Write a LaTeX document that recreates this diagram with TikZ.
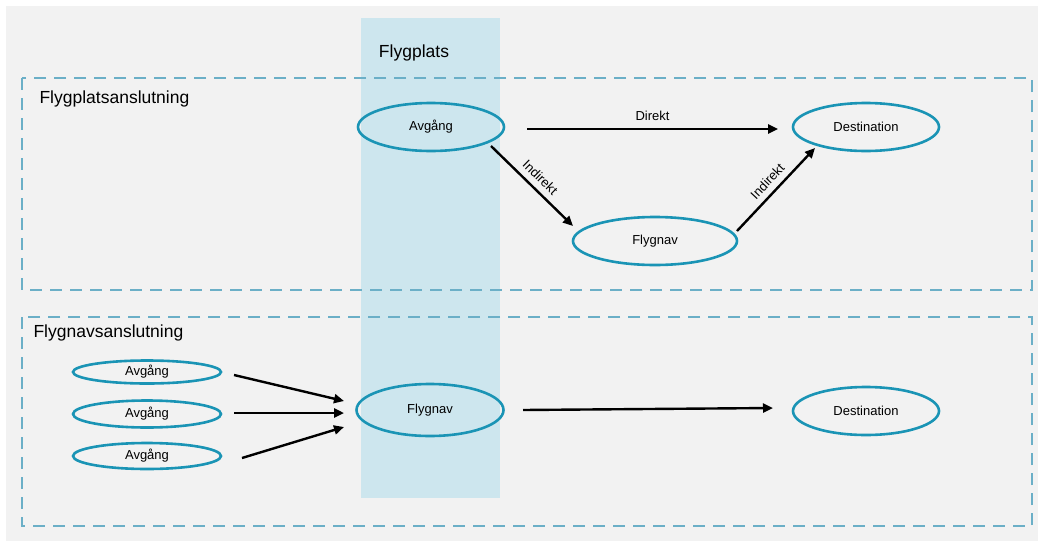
\documentclass[tikz,border=0pt]{standalone}
\usepackage{fontspec}
\setmainfont{Liberation Sans}
\usetikzlibrary{shapes.geometric,arrows.meta,calc}
\definecolor{bggray}{HTML}{F2F2F2}
\definecolor{colblue}{HTML}{CDE6EE}
\definecolor{ringblue}{HTML}{1A94B5}
\definecolor{dashblue}{HTML}{6BAFC7}
\tikzset{
  oval/.style={ellipse, draw=ringblue, line width=2.6pt, minimum width=#1, inner sep=0pt, font=\fontsize{13}{15}\selectfont},
  oval/.default={146pt},
  flow/.style={line width=2.4pt, -{Triangle[length=10pt,width=9pt]}},
  groupbox/.style={draw=dashblue, line width=2.8pt, dash pattern=on 12pt off 8pt},
  grouplabel/.style={anchor=west, font=\fontsize{17.5}{20}\selectfont},
  edgelabel/.style={font=\fontsize{13}{15}\selectfont, inner sep=1pt}
}
\begin{document}
\begin{tikzpicture}[x=1pt,y=-1pt]
\useasboundingbox (0,0) rectangle (1038,541);
\fill[white] (0,0) rectangle (1038,541);
\fill[bggray] (6,6) rectangle (1038,541);
% airport column
\fill[colblue] (361,18) rectangle (500,498);
\node[font=\fontsize{17.5}{20}\selectfont] (flygplats) at (414,53) {Flygplats};
% group boxes
\draw[groupbox] (22,78) rectangle (1032,290);
\draw[groupbox] (22,317) rectangle (1032,526);
\node[grouplabel] (g1) at (36,99) {Flygplatsanslutning};
\node[grouplabel] (g2) at (30,333) {Flygnavsanslutning};
% top nodes
\node[oval, minimum height=48pt] (avg1) at (431,127) {Avgång};
\node[oval, minimum height=48pt] (dst1) at (866,127) {Destination};
\node[oval=164pt, minimum height=48pt] (hub1) at (655,241) {Flygnav};
% bottom nodes
\node[oval=148pt, minimum height=23pt] (a1) at (147,372) {Avgång};
\node[oval=148pt, minimum height=27pt] (a2) at (147,414) {Avgång};
\node[oval=148pt, minimum height=26pt] (a3) at (147,456) {Avgång};
\node[oval=147pt, minimum height=52pt] (hub2) at (430,410) {Flygnav};
\node[oval=146pt, minimum height=48pt] (dst2) at (866,411) {Destination};
% top connectors
\draw[flow] ($(avg1)+(96,2)$) -- node[edgelabel, above=6pt] {Direkt} ($(dst1)+(-88,2)$);
\draw[flow] ($(avg1)+(60,19)$) -- node[edgelabel, sloped, above=5pt] {Indirekt} ($(hub1)+(-82,-15)$);
\draw[flow] ($(hub1)+(82,-10)$) -- node[edgelabel, sloped, above=5pt] {Indirekt} ($(dst1)+(-51,21)$);
% bottom connectors
\draw[flow] ($(a1)+(87,3)$) -- ($(hub2)+(-86,-9)$);
\draw[flow] ($(a2)+(87,-1)$) -- ($(hub2)+(-86,3)$);
\draw[flow] ($(a3)+(95,2)$) -- ($(hub2)+(-86,17)$);
\draw[flow] ($(hub2)+(93,0)$) -- ($(dst2)+(-93,-3)$);
\end{tikzpicture}
\end{document}
